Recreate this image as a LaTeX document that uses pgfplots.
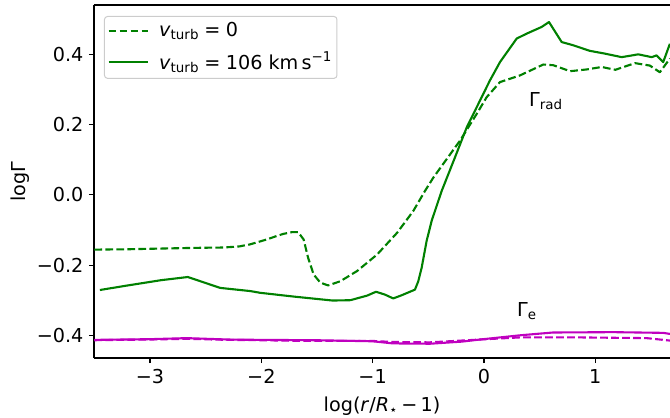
\documentclass[border=0pt]{standalone}
\usepackage{fontspec}
\setmainfont{DejaVu Sans}
\usepackage{pgfplots}
\pgfplotsset{compat=1.18}
\definecolor{mgreen}{HTML}{008000}
\definecolor{mmag}{HTML}{BF00BF}
\newcommand{\fs}{\fontsize{19.2pt}{23pt}\selectfont}
\newcommand{\eqs}{\hspace{0.28em}=\hspace{0.28em}}
\begin{document}
\fs
\begin{tikzpicture}
\begin{axis}[
  scale only axis, width=576pt, height=353pt,
  xmin=-3.503, xmax=1.671, ymin=-0.4646, ymax=0.5405,
  axis x line=box, axis y line=left, axis line style={-, line width=1.1pt},
  tick align=outside, xtick pos=left, ytick pos=left,
  major tick length=5pt, tick style={line width=1.1pt, black},
  xtick={-3,-2,-1,0,1}, xticklabels={−3,−2,−1,0,1},
  ytick={-0.4,-0.2,0,0.2,0.4}, yticklabels={−0.4,−0.2,0.0,0.2,0.4},
  ticklabel style={font=\fs},
  yticklabel style={xshift=1pt},
  label style={font=\fs},
  xlabel={log(\textit{r}/\textit{R}\textsubscript{⋆}\,−\,1)},
  ylabel={logΓ},
  ylabel style={yshift=-6pt},
  legend cell align=left,
  legend image code/.code={\draw[#1] plot coordinates {(0pt,0pt) (39pt,0pt)};},
  legend style={at={(0,1)}, anchor=north west, xshift=10pt, yshift=-11pt,
    draw=black!20, line width=1pt, rounded corners=3pt, fill=white, fill opacity=0.8, text opacity=1,
    inner xsep=3pt, inner ysep=4pt, row sep=8.5pt, column sep=8.5pt,
    font=\fs},
  every axis plot/.append style={line width=2.1pt, line join=round},
]
\addplot[mgreen, dash pattern=on 7.7pt off 3.3pt] coordinates {
(-3.50,-0.156) (-3.2,-0.155) (-2.9,-0.153) (-2.6,-0.151) (-2.34,-0.150) (-2.2,-0.147)
(-2.10,-0.141) (-1.95,-0.127) (-1.86,-0.117) (-1.80,-0.111) (-1.72,-0.106) (-1.67,-0.106)
(-1.62,-0.127) (-1.58,-0.179) (-1.53,-0.227) (-1.47,-0.25) (-1.40,-0.258) (-1.29,-0.246)
(-1.14,-0.217) (-0.96,-0.17) (-0.78,-0.108) (-0.635,-0.046) (-0.53,0.011) (-0.455,0.049)
(-0.216,0.154) (-0.066,0.23) (0.024,0.278) (0.144,0.321) (0.323,0.34) (0.533,0.371)
(0.623,0.369) (0.773,0.352) (0.923,0.357) (1.057,0.364) (1.18,0.356) (1.357,0.375)
(1.49,0.368) (1.58,0.349) (1.67,0.388)};
\addlegendentry{\textit{v}\textsubscript{turb}\eqs 0}
\addplot[mgreen] coordinates {
(-3.45,-0.271) (-3.2,-0.258) (-2.9,-0.243) (-2.66,-0.234) (-2.37,-0.265) (-2.10,-0.274)
(-2.01,-0.279) (-1.7,-0.29) (-1.36,-0.301) (-1.20,-0.30) (-1.05,-0.287) (-0.97,-0.276)
(-0.89,-0.284) (-0.815,-0.295) (-0.74,-0.286) (-0.62,-0.27) (-0.59,-0.246) (-0.56,-0.208)
(-0.515,-0.131) (-0.47,-0.074) (-0.38,0.011) (-0.26,0.107) (-0.155,0.192) (-0.066,0.249)
(0.054,0.326) (0.144,0.378) (0.294,0.445) (0.384,0.459) (0.518,0.478) (0.584,0.492)
(0.698,0.435) (0.80,0.426) (0.95,0.41) (1.087,0.402) (1.237,0.392) (1.386,0.40)
(1.507,0.392) (1.55,0.397) (1.61,0.378) (1.67,0.43)};
\addlegendentry{\textit{v}\textsubscript{turb}\eqs 106 km\,s\textsuperscript{−1}\hspace{5pt}}
\addplot[mmag, forget plot] coordinates {
(-3.5,-0.413) (-3.0,-0.411) (-2.67,-0.408) (-2.3,-0.412) (-2.0,-0.413) (-1.5,-0.414)
(-1.0,-0.417) (-0.82,-0.423) (-0.485,-0.424) (-0.2,-0.418) (-0.036,-0.412) (0.323,-0.40)
(0.62,-0.392) (1.16,-0.391) (1.61,-0.393) (1.67,-0.396)};
\addplot[mmag, dash pattern=on 7.7pt off 3.3pt, forget plot] coordinates {
(-3.5,-0.414) (-3.0,-0.412) (-2.67,-0.41) (-2.3,-0.413) (-2.0,-0.414) (-1.63,-0.416)
(-1.0,-0.416) (-0.82,-0.419) (-0.485,-0.42) (-0.036,-0.412) (0.323,-0.406) (0.86,-0.406)
(1.46,-0.408) (1.67,-0.415)};
\node[font=\fs] at (axis cs:0.557,0.266) {Γ\textsubscript{rad}};
\node[font=\fs] at (axis cs:0.386,-0.33) {Γ\textsubscript{e}};
\coordinate (sw) at (rel axis cs:0,0);
\coordinate (ne) at (rel axis cs:1,1);
\end{axis}
\pgfresetboundingbox
\path[use as bounding box] ([xshift=-94pt,yshift=-60pt]sw) rectangle ([yshift=5pt]ne);
\end{tikzpicture}
\end{document}
